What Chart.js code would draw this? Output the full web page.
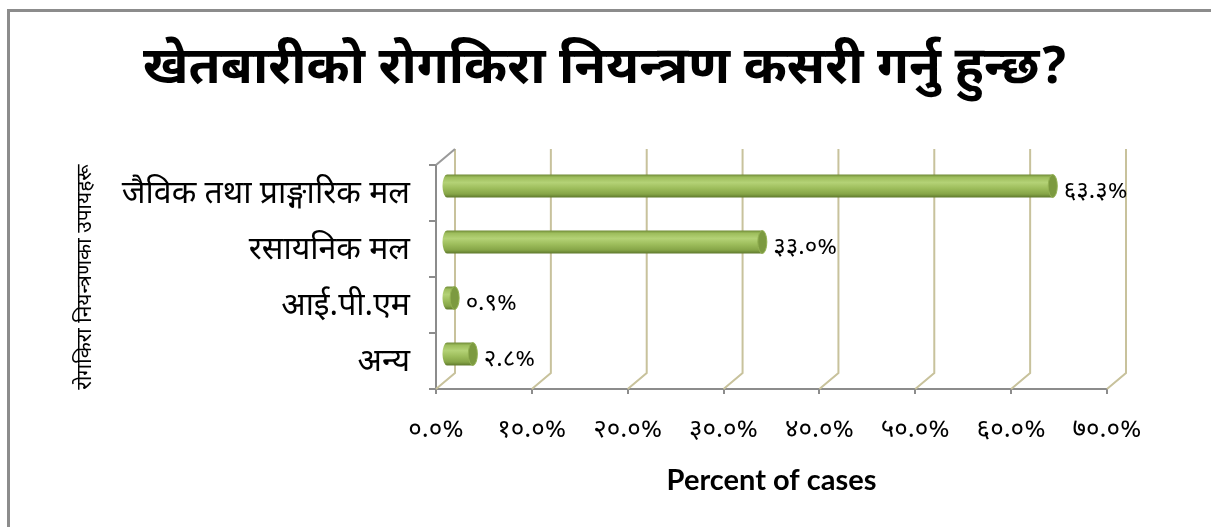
<!DOCTYPE html>
<html>
<head>
<meta charset="utf-8">
<script src="https://cdn.jsdelivr.net/npm/chart.js@4/dist/chart.umd.min.js"></script>
<style>
  html, body { margin: 0; padding: 0; background: #fff; }
  #wrap { position: relative; width: 1211px; height: 527px; }
</style>
</head>
<body>
<div id="wrap"><canvas id="chart" width="1211" height="527"></canvas></div>
<script>
// data
const categories = ['जैविक तथा प्राङ्गारिक मल', 'रसायनिक मल', 'आई.पी.एम', 'अन्य'];
const percentValues = [63.3, 33.0, 0.9, 2.8];
const xTickLabels = ['०.०%', '१०.०%', '२०.०%', '३०.०%', '४०.०%', '५०.०%', '६०.०%', '७०.०%'];

const devaFont = '"Noto Sans Devanagari", "Lohit Devanagari", Mangal, "Noto Sans", sans-serif';
const DX = 19, DY = -16;      // depth of the back wall
const BX = 10, BY = -7;       // bars sit half way back

function toDeva(str) {
  const d = '०१२३४५६७८९';
  return str.replace(/[0-9]/g, c => d[+c]);
}

function barGradient(ctx, y0, y1) {
  const g = ctx.createLinearGradient(0, y0, 0, y1);
  g.addColorStop(0, '#6f8a36');
  g.addColorStop(0.12, '#9dbd5c');
  g.addColorStop(0.35, '#b4d276');
  g.addColorStop(0.6, '#9dbd5b');
  g.addColorStop(0.85, '#86a547');
  g.addColorStop(1, '#5e782c');
  return g;
}

// frame, back wall and floor lines
const wallPlugin = {
  id: 'wall',
  beforeDraw(chart) {
    const ctx = chart.ctx;
    ctx.save();
    ctx.strokeStyle = '#8c8c8c';
    ctx.lineWidth = 3;
    ctx.beginPath();
    ctx.moveTo(8.5, 527);
    ctx.lineTo(8.5, 10.5);
    ctx.lineTo(1211, 10.5);
    ctx.stroke();
    ctx.restore();
  },
  beforeDatasetsDraw(chart) {
    const { ctx, chartArea: a, scales: { x } } = chart;
    ctx.save();
    ctx.strokeStyle = '#c8c29c';
    ctx.lineWidth = 2;
    x.ticks.forEach(t => {
      const px = x.getPixelForValue(t.value);
      ctx.beginPath();
      ctx.moveTo(px, a.bottom);
      ctx.lineTo(px + DX, a.bottom + DY);
      ctx.lineTo(px + DX, a.top + DY);
      ctx.stroke();
    });
    ctx.strokeStyle = '#9a9a9a';
    ctx.beginPath();
    ctx.moveTo(a.left, a.top);
    ctx.lineTo(a.left + DX, a.top + DY);
    ctx.stroke();
    ctx.restore();
  },
  beforeDatasetDraw(chart) {
    chart.ctx.save();
    chart.ctx.translate(BX, BY);
  },
  afterDatasetDraw(chart, args) {
    const ctx = chart.ctx;
    args.meta.data.forEach(el => {
      const h = el.height, rx = 4.5, ry = h / 2;
      // rounded back end
      ctx.beginPath();
      ctx.ellipse(el.base, el.y, rx, ry, 0, Math.PI / 2, Math.PI * 1.5);
      ctx.fillStyle = barGradient(ctx, el.y - ry, el.y + ry);
      ctx.fill();
      // end cap
      ctx.beginPath();
      ctx.ellipse(el.x, el.y, rx, ry, 0, 0, Math.PI * 2);
      ctx.fillStyle = '#7c9a40';
      ctx.fill();
      ctx.strokeStyle = '#93b152';
      ctx.lineWidth = 1;
      ctx.stroke();
    });
    ctx.restore();
  },
  afterDatasetsDraw(chart) {
    const ctx = chart.ctx;
    const meta = chart.getDatasetMeta(0);
    ctx.save();
    ctx.font = '24px ' + devaFont;
    ctx.fillStyle = '#000';
    ctx.textAlign = 'left';
    ctx.textBaseline = 'middle';
    meta.data.forEach((el, i) => {
      ctx.fillText(toDeva(percentValues[i].toFixed(1)) + '%', el.x + BX + 11, el.y + 1);
    });
    ctx.restore();
  }
};

const ctx = document.getElementById('chart').getContext('2d');
new Chart(ctx, {
  type: 'bar',
  data: {
    labels: categories,
    datasets: [{
      data: percentValues,
      backgroundColor: c => {
        const chart = c.chart;
        const y = chart.scales.y;
        if (!chart.chartArea || !y || c.dataIndex === undefined) return '#9bbb59';
        const band = y.getPixelForValue(1) - y.getPixelForValue(0);
        const h = band * 0.41;
        const cy = y.getPixelForValue(c.dataIndex);
        return barGradient(chart.ctx, cy - h / 2, cy + h / 2);
      },
      borderWidth: 0,
      barPercentage: 0.41,
      categoryPercentage: 1,
      clip: false
    }]
  },
  options: {
    indexAxis: 'y',
    responsive: false,
    animation: false,
    layout: { padding: 0 },
    plugins: {
      legend: { display: false },
      tooltip: { enabled: false },
      title: {
        display: true,
        text: 'खेतबारीको रोगकिरा नियन्त्रण कसरी गर्नु हुन्छ?',
        color: '#000',
        font: { family: devaFont, size: 52, weight: 'bold', lineHeight: 1.2 },
        padding: { top: 42, bottom: 60.6 }
      }
    },
    scales: {
      x: {
        min: 0,
        max: 70,
        ticks: {
          stepSize: 10,
          padding: 23,
          color: '#000',
          font: { family: devaFont, size: 26 },
          callback: (v, i) => xTickLabels[i]
        },
        grid: { drawOnChartArea: false, drawTicks: true, tickLength: 5, color: '#8c8c8c', lineWidth: 2 },
        border: { display: true, color: '#8c8c8c', width: 2 },
        title: {
          display: true,
          text: 'Percent of cases',
          color: '#000',
          font: { family: 'Lato', size: 29, weight: 'bold', lineHeight: 1.2 },
          padding: { top: 0, bottom: 28.6 }
        },
        afterFit: s => { s.height = 138; }
      },
      y: {
        ticks: { padding: 19, labelOffset: 4, color: '#000', font: { family: devaFont, size: 32 } },
        grid: { drawOnChartArea: false, tickLength: 7, color: '#8c8c8c', lineWidth: 2, offset: true },
        border: { display: true, color: '#8c8c8c', width: 2 },
        title: {
          display: true,
          text: 'रोगकिरा नियन्त्रणका उपायहरू',
          color: '#000',
          font: { family: devaFont, size: 21, lineHeight: 1.2 },
          padding: { top: 74, bottom: 0 }
        },
        afterFit: s => { s.width = 436; }
      },
      // empty right margin so the title centres on the full width
      yRight: {
        type: 'category',
        position: 'right',
        display: true,
        ticks: { display: false },
        grid: { display: false },
        border: { display: false },
        afterFit: s => { s.width = 104; }
      }
    }
  },
  plugins: [wallPlugin]
});
</script>
</body>
</html>
